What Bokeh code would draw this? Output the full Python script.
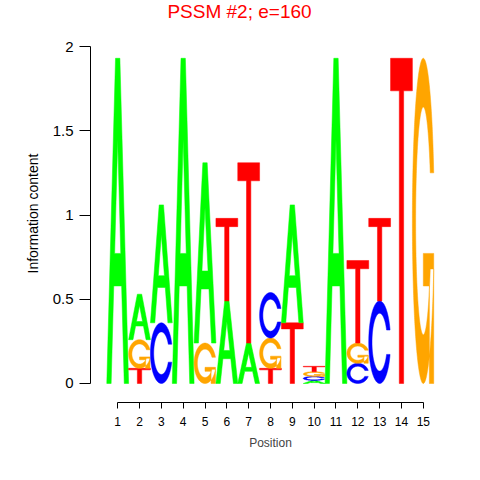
import numpy as np
from bokeh.plotting import figure
from bokeh.models import FixedTicker, Title, Label, ColumnDataSource
from bokeh.embed import file_html
from bokeh.resources import INLINE

# ---------------- data ----------------
positions = list(range(1, 16))
bases = ["A", "C", "G", "T"]
height_A = [1.93, 0.27, 0.70, 1.93, 1.07, 0.49, 0.24, 0.00, 0.70, 0.018, 1.93, 0.00, 0.00, 0.00, 0.00]
height_C = [0.00, 0.00, 0.36, 0.00, 0.00, 0.00, 0.00, 0.27, 0.00, 0.024, 0.00, 0.12, 0.49, 0.00, 0.00]
height_G = [0.00, 0.17, 0.00, 0.00, 0.24, 0.00, 0.00, 0.18, 0.00, 0.028, 0.00, 0.12, 0.00, 0.00, 1.93]
height_T = [0.00, 0.09, 0.00, 0.00, 0.00, 0.49, 1.07, 0.09, 0.36, 0.032, 0.00, 0.49, 0.49, 1.93, 0.00]
base_colors = ["#00FF00", "#0000FF", "#FFA500", "#FF0000"]
y_ticks = [0, 0.5, 1, 1.5, 2]
y_tick_labels = ["0", "0.5", "1", "1.5", "2"]
title_text = "PSSM #2; e=160"
x_title = "Position"
y_title = "Information content"

# ---------------- letter outlines (unit box, seqLogo style) ----------------
def shape_A():
    x = np.array([0, 4, 6, 10, 8, 6.8, 3.2, 2]) * 0.1
    y = np.array([0, 10, 10, 0, 0, 3, 3, 0]) * 0.1
    hx = np.array([3.6, 5, 6.4]) * 0.1
    hy = np.array([4, 7.5, 4]) * 0.1
    return [[(x, y), (hx, hy)]]

def _c_ring():
    a1 = np.linspace(0.3 + np.pi / 2, np.pi, 100)
    a2 = np.linspace(np.pi, 1.5 * np.pi, 100)
    xl1 = 0.5 + 0.5 * np.sin(a1); yl1 = 0.5 + 0.5 * np.cos(a1)
    xl2 = 0.5 + 0.5 * np.sin(a2); yl2 = 0.5 + 0.5 * np.cos(a2)
    xl = np.concatenate([xl1, xl2]); yl = np.concatenate([yl1, yl2])
    x = np.concatenate([xl, xl[::-1]]); y = np.concatenate([yl, 1 - yl[::-1]])
    xi1 = 0.5 + 0.35 * np.sin(a1); yi1 = 0.5 + 0.35 * np.cos(a1)
    m = yi1 <= yl1.max()
    xi1 = xi1[m]; yi1 = yi1[m]; yi1[0] = yl1.max()
    xi2 = 0.5 + 0.35 * np.sin(a2); yi2 = 0.5 + 0.35 * np.cos(a2)
    xi = np.concatenate([xi1, xi2]); yi = np.concatenate([yi1, yi2])
    x1 = np.concatenate([xi, xi[::-1]]); y1 = np.concatenate([yi, 1 - yi[::-1]])
    x = np.concatenate([x, x1[::-1]]); y = np.concatenate([y, y1[::-1]])
    return x, y, xl1.max()

def shape_C():
    x, y, _ = _c_ring()
    return [[(x, y)]]

def shape_G():
    x, y, r1 = _c_ring()
    h1 = 0.4
    xa = np.array([r1, 0.5, 0.5, r1 - 0.2, r1 - 0.2, r1])
    ya = np.array([h1, h1, h1 - 0.1, h1 - 0.1, 0, 0])
    return [[(x, y)], [(xa, ya)]]

def shape_T():
    x = np.array([0, 10, 10, 6, 6, 4, 4, 0]) * 0.1
    y = np.array([10, 10, 9, 9, 0, 0, 9, 9]) * 0.1
    return [[(x, y)]]

shapes = [shape_A(), shape_C(), shape_G(), shape_T()]
heights = [height_A, height_C, height_G, height_T]

xs, ys, cols = [], [], []
for i, pos in enumerate(positions):
    col_h = [heights[b][i] for b in range(4)]
    order = sorted(range(4), key=lambda b: col_h[b])
    base = 0.0
    for b in order:
        h = col_h[b]
        if h <= 0:
            continue
        mx, my = [], []
        for poly in shapes[b]:
            px, py = [], []
            for (rx, ry) in poly:
                px.append(list(pos - 0.5 + rx))
                py.append(list(base + h * ry))
            mx.append(px); my.append(py)
        xs.append(mx); ys.append(my); cols.append(base_colors[b])
        base += h

src = ColumnDataSource(dict(xs=xs, ys=ys, color=cols))

# ---------------- figure ----------------
FONT = "Liberation Sans"
p = figure(width=464, height=464, x_range=(-0.246, 16.246), y_range=(-0.11276, 2.2730),
           output_backend="svg", toolbar_location=None,
           min_border_left=90, min_border_right=14, min_border_top=0, min_border_bottom=62)
p.outline_line_color = None
p.xgrid.visible = False
p.ygrid.visible = False
p.background_fill_color = "white"
p.border_fill_color = "white"

p.multi_polygons(xs="xs", ys="ys", fill_color="color", line_color="color",
                 line_width=0.5, source=src)

xa = p.xaxis[0]
xa.ticker = FixedTicker(ticks=positions)
xa.bounds = (positions[0], positions[-1])
xa.minor_tick_line_color = None
xa.major_tick_in = 0
xa.major_tick_out = 6
xa.major_label_text_font = FONT
xa.major_label_text_font_size = "12px"
xa.major_label_text_color = "black"
xa.major_label_standoff = 8
xa.axis_label = x_title
xa.axis_label_text_font = FONT
xa.axis_label_text_font_style = "normal"
xa.axis_label_text_font_size = "12px"
xa.axis_label_standoff = 7
xa.axis_line_color = "black"
xa.major_tick_line_color = "black"

ya = p.yaxis[0]
ya.ticker = FixedTicker(ticks=y_ticks)
ya.major_label_overrides = {t: l for t, l in zip(y_ticks, y_tick_labels)}
ya.bounds = (y_ticks[0], y_ticks[-1])
ya.minor_tick_line_color = None
ya.major_tick_in = 0
ya.major_tick_out = 11
ya.major_label_orientation = "horizontal"
ya.major_label_text_font = FONT
ya.major_label_text_font_size = "15px"
ya.major_label_text_color = "black"
ya.major_label_standoff = 6
ya.axis_line_color = "black"
ya.major_tick_line_color = "black"

# y-axis title, placed beside the axis
p.add_layout(Title(text=y_title, align="left", offset=129, vertical_align="bottom",
                   standoff=17, text_font=FONT, text_font_size="14px",
                   text_font_style="normal", text_color="black"), "left")

# main title (inside the frame's top band)
p.add_layout(Label(x=149, y=391, x_units="screen", y_units="screen", text=title_text,
                   text_align="center", text_baseline="middle", text_color="#FF0000",
                   text_font=FONT, text_font_size="19px"))

open("out.html", "w").write(file_html(p, INLINE))
